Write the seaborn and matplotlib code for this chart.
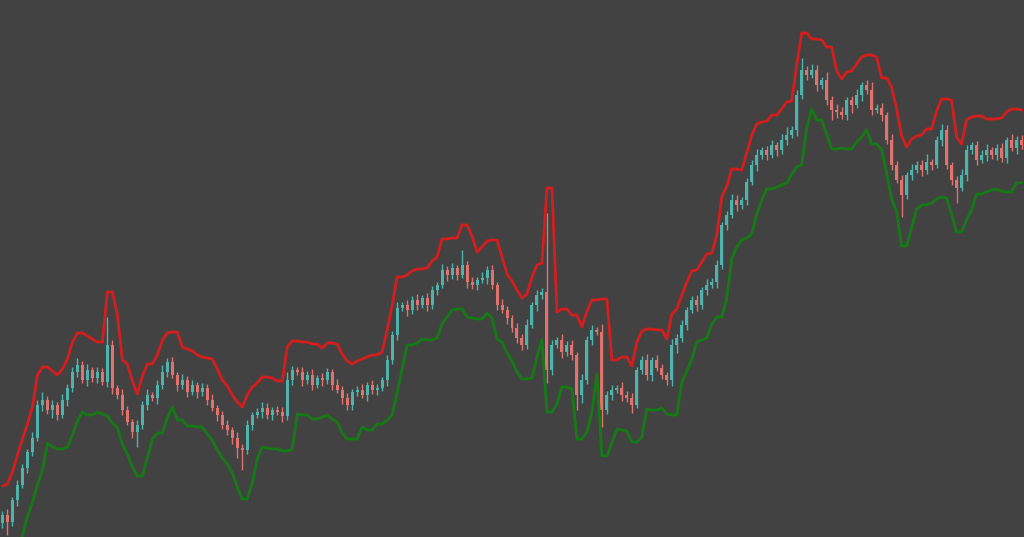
import numpy as np
import pandas as pd
import seaborn as sns
import matplotlib
matplotlib.use("Agg")
import matplotlib.pyplot as plt

# closing prices, one candle every ~5 px of the reference
close = [22, 15, 37, 52, 69, 85, 99, 132, 137, 127, 132, 122, 137, 149, 165, 172, 157, 167, 159, 165,
         155, 192, 149, 142, 127, 115, 105, 112, 132, 142, 139, 152, 165, 175, 162, 152, 157, 145, 152, 145,
         149, 137, 129, 122, 112, 107, 99, 89, 87, 112, 122, 125, 129, 122, 127, 125, 121, 157, 167, 165,
         157, 162, 152, 159, 157, 165, 152, 147, 139, 132, 145, 147, 142, 152, 147, 149, 157, 177, 202, 229,
         232, 227, 237, 232, 239, 232, 247, 252, 267, 262, 269, 262, 272, 255, 252, 257, 259, 267, 252, 232,
         227, 219, 209, 199, 192, 212, 232, 242, 245, 167, 192, 197, 185, 192, 182, 142, 157, 197, 207, 205,
         127, 142, 147, 149, 142, 139, 132, 167, 177, 162, 177, 169, 162, 157, 192, 199, 212, 227, 237, 232,
         247, 252, 255, 272, 312, 322, 337, 332, 337, 355, 372, 382, 387, 382, 392, 387, 397, 402, 407, 442,
         467, 462, 467, 452, 457, 437, 427, 425, 422, 437, 432, 442, 452, 447, 427, 429, 422, 397, 372, 357,
         342, 362, 367, 372, 367, 375, 372, 397, 407, 372, 357, 349, 362, 387, 392, 377, 382, 387, 382, 389,
         379, 397, 389, 397, 392]

wick_up = [4, 6, 3, 5, 4, 3, 6, 5, 8, 4, 5, 3, 6, 4, 5, 7, 4, 6, 3, 5,
           4, 28, 5, 3, 6, 4, 3, 5, 4, 6, 3, 5, 7, 4, 5, 3, 6, 4, 5, 3,
           5, 4, 6, 3, 4, 5, 3, 6, 4, 5, 3, 4, 6, 5, 3, 4, 5, 8, 4, 3,
           5, 4, 6, 3, 5, 4, 3, 6, 4, 5, 3, 4, 6, 3, 5, 4, 3, 5, 4, 6,
           3, 5, 4, 6, 3, 5, 4, 3, 6, 4, 5, 3, 15, 4, 5, 3, 6, 4, 5, 3,
           6, 4, 3, 5, 4, 6, 3, 5, 4, 79, 5, 3, 6, 4, 5, 3, 6, 4, 5, 3,
           8, 4, 5, 3, 6, 4, 5, 3, 4, 6, 3, 5, 4, 3, 6, 4, 5, 3, 4, 5,
           3, 6, 4, 5, 3, 4, 6, 5, 3, 4, 5, 6, 3, 4, 5, 3, 6, 8, 4, 5,
           12, 4, 6, 5, 3, 8, 4, 6, 5, 3, 4, 6, 3, 5, 8, 4, 5, 3, 6, 4,
           5, 3, 6, 4, 5, 8, 3, 4, 6, 5, 3, 4, 6, 5, 3, 4, 5, 6, 3, 4,
           5, 3, 6, 4, 5]

wick_dn = [5, 13, 4, 6, 3, 5, 4, 3, 6, 4, 8, 5, 3, 6, 4, 5, 3, 6, 4, 5,
           3, 5, 6, 4, 5, 3, 6, 15, 4, 5, 3, 6, 4, 5, 3, 6, 4, 5, 3, 6,
           4, 5, 3, 6, 4, 5, 6, 10, 20, 4, 5, 3, 6, 4, 5, 3, 6, 4, 5, 3,
           6, 4, 5, 3, 6, 4, 5, 3, 6, 5, 5, 4, 3, 6, 4, 5, 3, 6, 4, 5,
           3, 6, 4, 5, 3, 6, 4, 5, 3, 6, 4, 5, 3, 6, 4, 5, 3, 6, 4, 5,
           3, 6, 4, 5, 5, 4, 3, 6, 4, 13, 5, 3, 6, 4, 5, 15, 8, 4, 5, 3,
           17, 4, 5, 3, 6, 4, 8, 3, 4, 5, 6, 3, 4, 5, 6, 8, 4, 5, 3, 6,
           4, 5, 3, 6, 4, 5, 3, 6, 4, 5, 3, 6, 4, 5, 3, 6, 4, 5, 3, 6,
           4, 5, 3, 6, 4, 5, 10, 6, 4, 5, 8, 3, 6, 4, 5, 3, 6, 4, 5, 3,
           22, 4, 5, 3, 6, 4, 5, 3, 6, 4, 5, 15, 3, 6, 4, 5, 3, 6, 4, 5,
           4, 5, 3, 6, 4]

n = len(close)
df = pd.DataFrame({"i": np.arange(n), "close": close})
df["open"] = df["close"].shift(1).fillna(df["close"] - 8)
df["high"] = df[["open", "close"]].max(axis=1) + np.array(wick_up[:n])
df["low"] = df[["open", "close"]].min(axis=1) - np.array(wick_dn[:n])

# envelope bands
df["upper"] = df["high"].rolling(2, min_periods=1).max() + 25
df["lower"] = df["low"].rolling(2, min_periods=1).min() - 29

bg = "#424242"
sns.set_theme(style="dark", rc={"axes.facecolor": bg, "figure.facecolor": bg})

fig = plt.figure(figsize=(10.24, 5.37), dpi=100)
ax = fig.add_axes([0, 0, 1, 1])

up = df["close"] >= df["open"]
colors = np.where(up, "#4fb3ad", "#e0736d")
ax.vlines(df["i"], df["low"], df["high"], colors=colors, linewidth=1.0, zorder=2)
ax.bar(df["i"], (df["close"] - df["open"]).abs().clip(lower=2),
       bottom=df[["open", "close"]].min(axis=1), width=0.6, color=colors,
       edgecolor="none", linewidth=0, zorder=3)

sns.lineplot(data=df, x="i", y="upper", color="#d41e1e", linewidth=2.0, ax=ax, zorder=4)
sns.lineplot(data=df, x="i", y="lower", color="#157a15", linewidth=2.0, ax=ax, zorder=4)

ax.set_xlim(-0.5, n - 0.5)
ax.set_ylim(0, 537)
ax.axis("off")

fig.savefig("out.png", dpi=100, facecolor=bg)
